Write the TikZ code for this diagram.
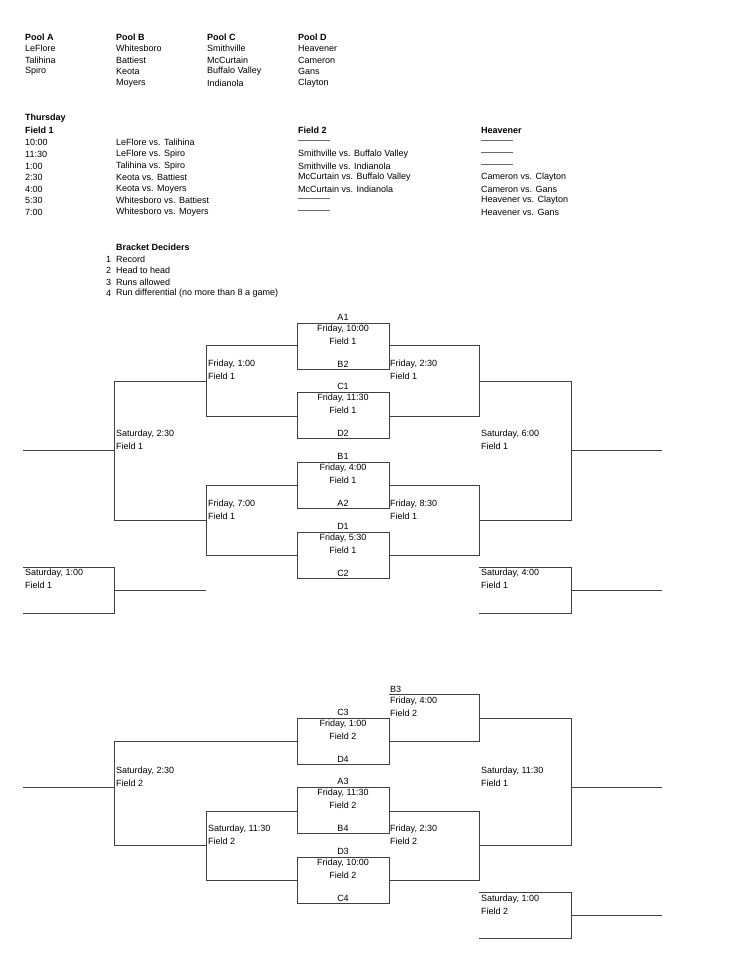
\documentclass[tikz,border=0pt]{standalone}
\usepackage{fontspec}
\setmainfont{Liberation Sans}
\begin{document}
\begin{tikzpicture}[x=1pt,y=-1pt,
  t/.style={anchor=west,inner sep=0pt,font=\fontsize{9}{10}\selectfont},
  b/.style={t,font=\fontsize{9}{10}\selectfont\bfseries},
  c/.style={anchor=center,inner sep=0pt,font=\fontsize{9}{10}\selectfont},
  ln/.style={draw=black!75,line width=0.8pt}]
\useasboundingbox (0,0) rectangle (750,967);
% pools
\foreach \x/\h/\a/\bb/\cc/\d [count=\i] in {25/Pool A/LeFlore/Talihina/Spiro/,116/Pool B/Whitesboro/Battiest/Keota/Moyers,207/Pool C/Smithville/McCurtain/Buffalo Valley/Indianola,298/Pool D/Heavener/Cameron/Gans/Clayton}{
  \node[b] (ph\i) at (\x,37) {\h};
  \node[t] (p1\i) at (\x,48.5) {\a};
  \node[t] (p2\i) at (\x,60) {\bb};
  \node[t] (p3\i) at (\x,71.5) {\cc};
  \node[t] (p4\i) at (\x,83) {\d};
}
\node[b] (thu) at (25,118) {Thursday};
\node[b] (f1) at (25,130) {Field 1};
\node[b] (f2) at (298,130) {Field 2};
\node[b] (hv) at (481,130) {Heavener};
\foreach \y/\tm/\g/\h/\k [count=\i] in {
 142/10:00/LeFlore vs. Talihina/-----------/-----------,
 154/11:30/LeFlore vs. Spiro/Smithville vs. Buffalo Valley/-----------,
 166/1:00/Talihina vs. Spiro/Smithville vs. Indianola/-----------,
 177/2:30/Keota vs. Battiest/McCurtain vs. Buffalo Valley/Cameron vs. Clayton,
 189/4:00/Keota vs. Moyers/McCurtain vs. Indianola/Cameron vs. Gans,
 200/5:30/Whitesboro vs. Battiest/-----------/Heavener vs. Clayton,
 212/7:00/Whitesboro vs. Moyers/-----------/Heavener vs. Gans}{
  \node[t] (tm\i) at (25,\y) {\tm};
  \node[t] (g\i) at (116,\y) {\g};
  \node[t] (h\i) at (298,\y) {\h};
  \node[t] (k\i) at (481,\y) {\k};
}
\node[b] (bd) at (116,247) {Bracket Deciders};
\foreach \y/\s [count=\i] in {259/Record,270/Head to head,282/Runs allowed,293/Run differential (no more than 8 a game)}{
  \node[t] (bn\i) at (106,\y) {\i};
  \node[t] (bs\i) at (116,\y) {\s};
}
% boxes: top, labels
\foreach \tp/\la/\ta/\fa/\lb [count=\i] in {
 323/A1/{Friday, 10:00}/Field 1/B2,
 392/C1/{Friday, 11:30}/Field 1/D2,
 462/B1/{Friday, 4:00}/Field 1/A2,
 532/D1/{Friday, 5:30}/Field 1/C2,
 718/C3/{Friday, 1:00}/Field 2/D4,
 787/A3/{Friday, 11:30}/Field 2/B4,
 857/D3/{Friday, 10:00}/Field 2/C4}{
  \draw[ln] (297,\tp) rectangle (389,\tp+46);
  \node[c] (bl\i) at (343,\tp-5.5) {\la};
  \node[c] (bt\i) at (343,\tp+6.5) {\ta};
  \node[c] (bf\i) at (343,\tp+18.5) {\fa};
  \node[c] (bb\i) at (343,\tp+41) {\lb};
}
% top bracket
\draw[ln] (297,345) -- (206,345) -- (206,416) -- (297,416);
\draw[ln] (389,345) -- (479,345) -- (479,416) -- (389,416);
\draw[ln] (297,485) -- (206,485) -- (206,555) -- (297,555);
\draw[ln] (389,485) -- (479,485) -- (479,555) -- (389,555);
\draw[ln] (206,381) -- (114,381) -- (114,520) -- (206,520);
\draw[ln] (479,381) -- (571,381) -- (571,520) -- (479,520);
\draw[ln] (23,450) -- (114,450);
\draw[ln] (571,450) -- (662,450);
\draw[ln] (23,567) -- (114,567) -- (114,613) -- (23,613);
\draw[ln] (114,590) -- (206,590);
\draw[ln] (479,567) -- (571,567) -- (571,613) -- (479,613);
\draw[ln] (571,590) -- (662,590);
\node[t] at (208,364) {Friday, 1:00};  \node[t] at (208,376) {Field 1};
\node[t] at (390,364) {Friday, 2:30};  \node[t] at (390,376) {Field 1};
\node[t] at (208,504) {Friday, 7:00};  \node[t] at (208,516) {Field 1};
\node[t] at (390,504) {Friday, 8:30};  \node[t] at (390,516) {Field 1};
\node[t] at (116,434) {Saturday, 2:30}; \node[t] at (116,446) {Field 1};
\node[t] at (481,434) {Saturday, 6:00}; \node[t] at (481,446) {Field 1};
\node[t] at (25,573) {Saturday, 1:00}; \node[t] at (25,585) {Field 1};
\node[t] at (481,573) {Saturday, 4:00}; \node[t] at (481,585) {Field 1};
% bottom bracket
\draw[ln] (389,694) -- (479,694) -- (479,741) -- (389,741);
\draw[ln] (297,741) -- (114,741) -- (114,845) -- (206,845);
\draw[ln] (297,811) -- (206,811) -- (206,880) -- (297,880);
\draw[ln] (389,811) -- (479,811) -- (479,880) -- (389,880);
\draw[ln] (479,718) -- (571,718) -- (571,845) -- (479,845);
\draw[ln] (23,787) -- (114,787);
\draw[ln] (571,787) -- (662,787);
\draw[ln] (479,892) -- (571,892) -- (571,938) -- (479,938);
\draw[ln] (571,915) -- (662,915);
\node[t] at (390,689) {B3};
\node[t] at (390,701) {Friday, 4:00}; \node[t] at (390,713) {Field 2};
\node[t] at (116,771) {Saturday, 2:30}; \node[t] at (116,783) {Field 2};
\node[t] at (481,771) {Saturday, 11:30}; \node[t] at (481,783) {Field 1};
\node[t] at (208,829) {Saturday, 11:30}; \node[t] at (208,841) {Field 2};
\node[t] at (390,829) {Friday, 2:30}; \node[t] at (390,841) {Field 2};
\node[t] at (481,899) {Saturday, 1:00}; \node[t] at (481,911) {Field 2};
\end{tikzpicture}
\end{document}
